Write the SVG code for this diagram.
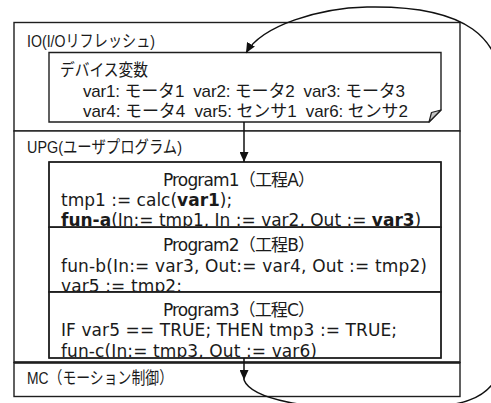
<svg xmlns="http://www.w3.org/2000/svg" width="491" height="403" viewBox="0 0 491 403">
  <style>
    .frame { fill: #fff; stroke: #1e1e1e; stroke-width: 1.4; }
    .edge { fill: none; stroke: #1e1e1e; stroke-width: 1.4; }
    .sep-thick { fill: none; stroke: #1e1e1e; stroke-width: 2.6; }
    .fold { fill: #c4c4c4; stroke: #1e1e1e; stroke-width: 1.2; stroke-linejoin: round; }
    .t { font-family: "Liberation Sans", "Noto Sans CJK JP", sans-serif; font-size: 17px; fill: #1a1a1a; }
    .code { font-family: "DejaVu Sans", "Noto Sans CJK JP", sans-serif; font-size: 17px; fill: #1a1a1a; }
    .b { font-weight: bold; }
    .conn { fill: none; stroke: #111; stroke-width: 1.5; }
  </style>
  <defs>
    <marker id="arrow" markerUnits="userSpaceOnUse" markerWidth="10" markerHeight="9" refX="10" refY="4.5" orient="auto">
      <path d="M0,0 L10,4.5 L0,9 Z" fill="#111"/>
    </marker>
    <clipPath id="clip-p1"><rect x="49" y="162" width="392" height="65.3"/></clipPath>
    <clipPath id="clip-p2"><rect x="49" y="227.3" width="392" height="64.7"/></clipPath>
    <clipPath id="clip-p3"><rect x="49" y="292" width="392" height="66"/></clipPath>
  </defs>

  <!-- I/O refresh stage -->
  <g id="io-section">
    <rect class="frame" x="14" y="22.5" width="446" height="108.5"/>
    <text class="t" x="27" y="46.5" textLength="128" lengthAdjust="spacingAndGlyphs">IO(I/Oリフレッシュ)</text>
  </g>

  <!-- device variable table (note shape with folded corner) -->
  <g id="device-vars">
    <path class="frame" d="M49,52.5 H441 V110 L429,122 H49 Z"/>
    <path class="fold" d="M429,122 L431.5,112.5 L441,110 Z"/>
    <text class="t" x="60" y="76" textLength="88" lengthAdjust="spacingAndGlyphs">デバイス変数</text>
    <text class="t" x="83" y="96.5" textLength="322" xml:space="preserve">var1: モータ1  var2: モータ2  var3: モータ3</text>
    <text class="t" x="83" y="117" textLength="325" xml:space="preserve">var4: モータ4  var5: センサ1  var6: センサ2</text>
  </g>

  <!-- user program stage -->
  <g id="upg-section">
    <rect class="frame" x="14" y="131" width="446" height="231.5"/>
    <text class="t" x="27" y="152.5" textLength="155" lengthAdjust="spacingAndGlyphs">UPG(ユーザプログラム)</text>
  </g>

  <g id="program1">
    <rect class="frame" x="49" y="162" width="392" height="65.3"/>
    <g clip-path="url(#clip-p1)">
      <text class="code" x="163" y="185.5" textLength="152">Program1（工程A）</text>
      <text class="code" x="61" y="206">tmp1 := calc(<tspan class="b">var1</tspan>);</text>
      <text class="code" x="61" y="226"><tspan class="b">fun-a</tspan>(In:= tmp1, In := var2, Out := <tspan class="b">var3</tspan>)</text>
    </g>
    <rect class="edge" x="49" y="162" width="392" height="65.3"/>
  </g>

  <g id="program2">
    <rect class="frame" x="49" y="227.3" width="392" height="64.7"/>
    <g clip-path="url(#clip-p2)">
      <text class="code" x="163" y="251" textLength="152">Program2（工程B）</text>
      <text class="code" x="61" y="271.5" textLength="366">fun-b(In:= var3, Out:= var4, Out := tmp2)</text>
      <text class="code" x="61" y="291.5" textLength="121">var5 := tmp2;</text>
    </g>
    <rect class="edge" x="49" y="227.3" width="392" height="64.7"/>
  </g>

  <g id="program3">
    <rect class="frame" x="49" y="292" width="392" height="66"/>
    <g clip-path="url(#clip-p3)">
      <text class="code" x="163" y="316" textLength="152">Program3（工程C）</text>
      <text class="code" x="61" y="336" textLength="336">IF var5 == TRUE; THEN tmp3 := TRUE;</text>
      <text class="code" x="61" y="356.5" textLength="256">fun-c(In:= tmp3, Out := var6)</text>
    </g>
    <rect class="edge" x="49" y="292" width="392" height="66"/>
  </g>

  <!-- motion control stage -->
  <g id="mc-section">
    <rect class="frame" x="14" y="362.5" width="446" height="34"/>
    <line class="sep-thick" x1="14" y1="362.5" x2="460" y2="362.5"/>
    <text class="t" x="27" y="383.5" textLength="146" lengthAdjust="spacingAndGlyphs">MC（モーション制御）</text>
  </g>

  <!-- scan-cycle flow -->
  <g id="connectors">
    <line class="conn" x1="244" y1="122" x2="244" y2="162" marker-end="url(#arrow)"/>
    <line class="conn" x1="244" y1="358" x2="244" y2="380" marker-end="url(#arrow)"/>
    <path class="conn" d="M244,380 C252,400 310,409 370,409 C460,409 500,405 503,350 C506,300 505,120 503,90 C500,40 470,5 367,7 C320,8 262,25 246,53" marker-end="url(#arrow)"/>
  </g>
</svg>
